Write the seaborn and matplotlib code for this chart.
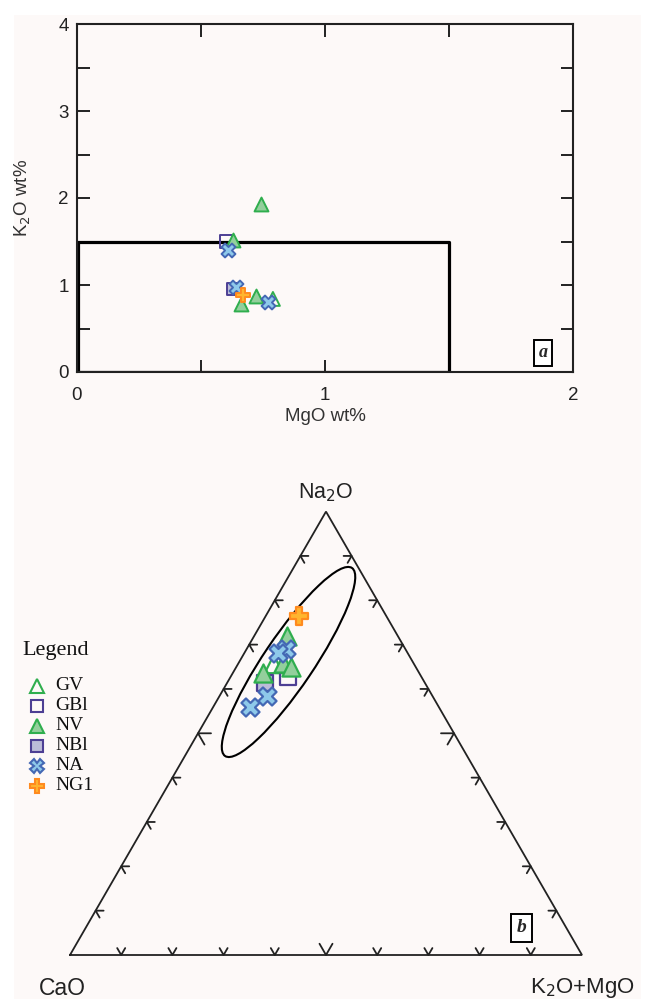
import numpy as np
import pandas as pd
import matplotlib
matplotlib.use("Agg")
import matplotlib.pyplot as plt
from matplotlib.patches import Ellipse, Rectangle
from matplotlib.lines import Line2D
import seaborn as sns

# Gruppen und Stil
groups = ["GV", "GBl", "NV", "NBl", "NA", "NG1"]
markers = {"GV": "^", "GBl": "s", "NV": "^", "NBl": "s", "NA": "X", "NG1": "P"}
faces = {"GV": "none", "GBl": "none", "NV": "#93cf9c", "NBl": "#bcbcd8", "NA": "#8ec9ea", "NG1": "#ffb52e"}
edges = {"GV": "#2fae4e", "GBl": "#4d3f94", "NV": "#2fae4e", "NBl": "#4d3f94", "NA": "#4468b4", "NG1": "#ff8a1f"}

# Panel a: MgO vs K2O (wt%)
mgo = {"GV": [0.79], "GBl": [0.60], "NV": [0.74, 0.63, 0.72, 0.66],
       "NBl": [0.63], "NA": [0.61, 0.64, 0.77], "NG1": [0.67]}
k2o = {"GV": [0.84], "GBl": [1.50], "NV": [1.93, 1.52, 0.87, 0.78],
       "NBl": [0.95], "NA": [1.40, 0.98, 0.80], "NG1": [0.88]}
box_limit = 1.5   # Feld-Rechteck

# Panel b: Na2O - CaO - (K2O+MgO), Anteile in %
na2o = {"GV": [65.6], "GBl": [62.8], "NV": [71.9, 65.9, 65.0, 63.5],
        "NBl": [61.3], "NA": [69.0, 68.0, 58.3, 55.9], "NG1": [76.5]}
cao = {"GV": [27.4], "GBl": [26.0], "NV": [21.7, 25.5, 24.4, 30.5],
       "NBl": [31.3], "NA": [23.3, 25.3, 32.4, 36.9], "NG1": [17.0]}
k2o_mgo = {"GV": [7.0], "GBl": [11.3], "NV": [6.4, 8.6, 10.6, 6.0],
           "NBl": [7.5], "NA": [7.7, 6.7, 9.3, 7.2], "NG1": [6.5]}
# Ellipse (Feld) in Dreieckskoordinaten
ell_center = (0.4268, 0.5723)
ell_width, ell_height, ell_angle = 0.443, 0.098, 56

H = np.sqrt(3) / 2


def tern_xy(top, left, right):
    tot = np.asarray(top) + np.asarray(left) + np.asarray(right)
    t = np.asarray(top) / tot
    r = np.asarray(right) / tot
    return r + t / 2, t * H


sns.set_style("white")
plt.rcParams["font.family"] = ["Liberation Sans", "DejaVu Sans"]

fig = plt.figure(figsize=(6.5, 9.99), dpi=100, facecolor="white")
fig.patches.append(Rectangle((14 / 650, 0), 627 / 650, 984 / 999, transform=fig.transFigure,
                             facecolor="#fdf9f8", edgecolor="none", zorder=-10))

# ---------- Panel a ----------
ax = fig.add_axes([77 / 650, 1 - 372 / 999, 496 / 650, 348 / 999])
ax.set_facecolor("none")
rows = []
for g in groups:
    for x, y in zip(mgo[g], k2o[g]):
        rows.append({"group": g, "MgO": x, "K2O": y})
df_a = pd.DataFrame(rows)
for i, g in enumerate(groups):
    sub = df_a[df_a["group"] == g]
    size = 75 if markers[g] == "s" else 100
    sns.scatterplot(data=sub, x="MgO", y="K2O", marker=markers[g], s=size, color=faces[g],
                    edgecolor=edges[g], linewidth=1.4, ax=ax, legend=False, zorder=3 + i)
ax.plot([0, box_limit, box_limit, 0], [box_limit, box_limit, 0, 0], color="black", lw=2.3, zorder=2)
ax.plot([0.003, 0.003], [0, box_limit], color="black", lw=2.3, zorder=2)
ax.set_xlim(0, 2)
ax.set_ylim(0, 4)
ax.set_xticks(np.arange(0, 2.01, 0.5))
ax.set_xticklabels(["0", "", "1", "", "2"])
ax.set_yticks(np.arange(0, 4.01, 0.5))
ax.set_yticklabels(["0", "", "1", "", "2", "", "3", "", "4"])
ax.tick_params(direction="in", length=9, width=1.4, top=True, right=True, bottom=True, left=True,
               labelsize=13.5, colors="#222222", pad=6)
ax.tick_params(axis="x", pad=11)
for sp in ax.spines.values():
    sp.set_linewidth(1.5)
    sp.set_color("#222222")
ax.set_xlabel("MgO wt%", fontsize=13.5, color="#333333", labelpad=3)
ax.set_ylabel("K$_2$O wt%", fontsize=13.5, color="#333333", labelpad=18)
ax.text(1.88, 0.22, "a", fontsize=13, family="Liberation Serif", weight="bold", style="italic",
        ha="center", va="center", bbox=dict(boxstyle="square,pad=0.25", fc="white", ec="black", lw=1.4))

# ---------- Panel b (Dreieck) ----------
axt = fig.add_axes([0, 0, 1, 560 / 999])
axt.set_facecolor("none")
axt.set_xlim(-70 / 512, 580 / 512)
axt.set_ylim(-44 / 512, 516 / 512)
axt.axis("off")

axt.plot([0, 1, 0.5, 0], [0, 0, H, 0], color="#222222", lw=1.3, solid_joinstyle="miter")
for i in range(1, 10):
    f = i / 10
    L = 13 / 512 if i == 5 else 8 / 512
    for (px, py), angs in [((f, 0), (60, 120)),
                           ((f / 2, f * H), (0, -60)),
                           ((1 - f / 2, f * H), (180, 240))]:
        a1, a2 = np.radians(angs)
        axt.plot([px + L * np.cos(a1), px, px + L * np.cos(a2)],
                 [py + L * np.sin(a1), py, py + L * np.sin(a2)], color="#222222", lw=1.3)

axt.add_patch(Ellipse(ell_center, ell_width, ell_height, angle=ell_angle,
                      facecolor="none", edgecolor="black", lw=1.5, zorder=2))

rows = []
for g in groups:
    xs, ys = tern_xy(na2o[g], cao[g], k2o_mgo[g])
    for x, y in zip(xs, ys):
        rows.append({"group": g, "X": x, "Y": y})
df_b = pd.DataFrame(rows)
order = ["GV", "GBl", "NBl", "NV", "NA", "NG1"]
for i, g in enumerate(order):
    sub = df_b[df_b["group"] == g]
    size = 130 if markers[g] == "s" else 170
    sns.scatterplot(data=sub, x="X", y="Y", marker=markers[g], s=size, color=faces[g],
                    edgecolor=edges[g], linewidth=1.6, ax=axt, legend=False, zorder=3 + i)

axt.text(0.5, H + 0.015, "Na$_2$O", fontsize=15.5, ha="center", va="bottom", color="#222222")
axt.text(-0.014, -0.065, "CaO", fontsize=16.5, ha="center", va="center", color="#222222")
axt.text(1.0, -0.065, "K$_2$O+MgO", fontsize=16, ha="center", va="center", color="#222222")
axt.text(0.882, 0.053, "b", fontsize=14, family="Liberation Serif", weight="bold", style="italic",
         ha="center", va="center", bbox=dict(boxstyle="square,pad=0.3", fc="white", ec="black", lw=1.4))

# Legende
fig.text(22 / 650, 1 - 651 / 999, "Legend", fontsize=16, family="Liberation Serif",
         ha="left", va="center", color="#111111")
for k, g in enumerate(groups):
    yy = 1 - (686 + 20 * k) / 999
    ms = 8 if markers[g] == "s" else 9.5
    fig.add_artist(Line2D([37 / 650], [yy], transform=fig.transFigure, marker=markers[g],
                          markersize=ms, markerfacecolor=faces[g], markeredgecolor=edges[g],
                          markeredgewidth=1.5, linestyle="none"))
    fig.text(55 / 650, yy, g, fontsize=14, family="Liberation Serif", ha="left", va="center",
             color="#111111")

fig.savefig("out.png", dpi=100)
